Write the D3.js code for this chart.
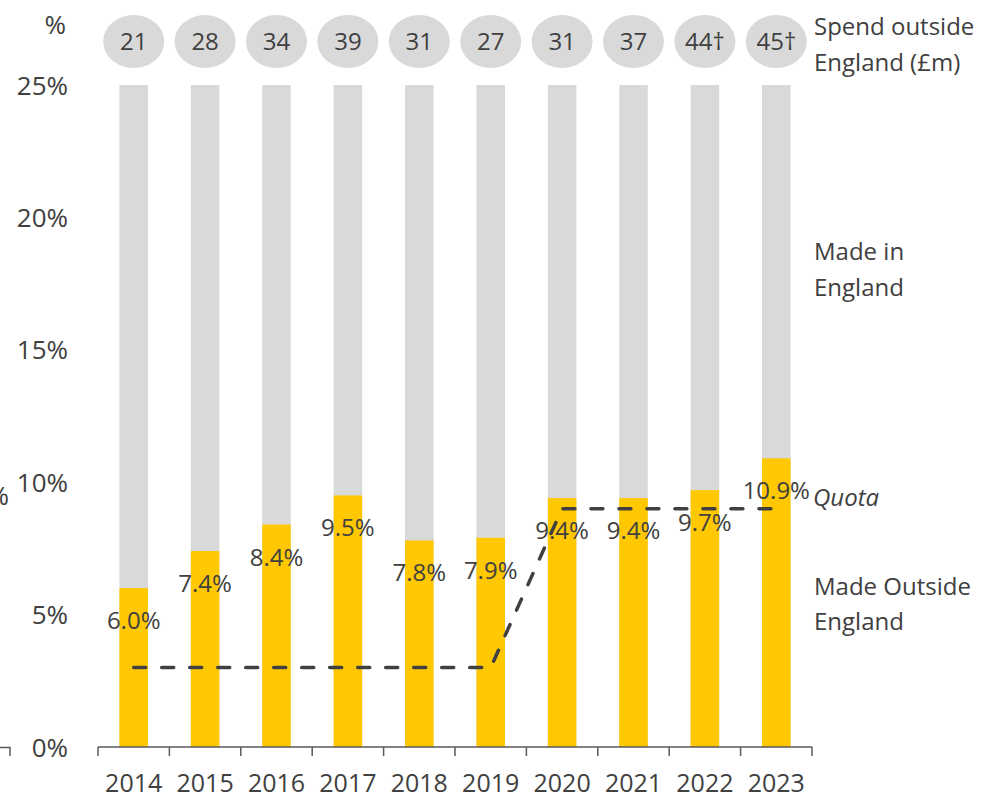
<!DOCTYPE html>
<html>
<head>
<meta charset="utf-8">
<script src="https://cdn.jsdelivr.net/npm/d3@7"></script>
<style>
  body { margin: 0; background: #fff; }
  svg { display: block; font-family: "Open Sans", "Noto Sans", sans-serif; }
</style>
</head>
<body>
<svg width="987" height="796"></svg>
<script>
// Chart data
var years = ["2014", "2015", "2016", "2017", "2018", "2019", "2020", "2021", "2022", "2023"];
var madeOutside = [6.0, 7.4, 8.4, 9.5, 7.8, 7.9, 9.4, 9.4, 9.7, 10.9];
var quota = [3, 3, 3, 3, 3, 3, 9, 9, 9, 9];
var spendLabels = ["21", "28", "34", "39", "31", "27", "31", "37", "44\u2020", "45\u2020"];
var yTicks = [0, 5, 10, 15, 20, 25];

var svg = d3.select("svg");
var textColor = "#404040";

// Scales
var x = d3.scaleBand()
    .domain(years)
    .range([98, 812])
    .paddingInner(0.6)
    .paddingOuter(0.3);

var y = d3.scaleLinear()
    .domain([0, 25])
    .range([747, 85]);

var cx = d => x(d) + x.bandwidth() / 2;

// Grey background bars (full height = made in England)
svg.append("g")
  .selectAll("rect")
  .data(years)
  .enter().append("rect")
    .attr("x", d => x(d))
    .attr("y", y(25))
    .attr("width", x.bandwidth())
    .attr("height", y(0) - y(25))
    .attr("fill", "#d9d9d9");

// Yellow bars (made outside England)
svg.append("g")
  .selectAll("rect")
  .data(madeOutside)
  .enter().append("rect")
    .attr("x", (d, i) => x(years[i]))
    .attr("y", d => y(d))
    .attr("width", x.bandwidth())
    .attr("height", d => y(0) - y(d))
    .attr("fill", "#ffc800");

// Quota line
var line = d3.line()
    .x((d, i) => cx(years[i]))
    .y(d => y(d));

svg.append("path")
    .datum(quota)
    .attr("d", line)
    .attr("fill", "none")
    .attr("stroke", "#404040")
    .attr("stroke-width", 3.5)
    .attr("stroke-linecap", "round")
    .attr("stroke-dasharray", "12,16");

// Bar value labels
svg.append("g")
  .selectAll("text")
  .data(madeOutside)
  .enter().append("text")
    .attr("x", (d, i) => cx(years[i]))
    .attr("y", d => y(d) + 41)
    .attr("text-anchor", "middle")
    .attr("font-size", 24)
    .attr("fill", textColor)
    .text(d => d.toFixed(1) + "%");

// Spend ellipses on top
var spend = svg.append("g")
  .selectAll("g")
  .data(spendLabels)
  .enter().append("g")
    .attr("transform", (d, i) => `translate(${cx(years[i])},41.5)`);

spend.append("ellipse")
    .attr("rx", 30.5)
    .attr("ry", 26.5)
    .attr("fill", "#d9d9d9");

spend.append("text")
    .attr("y", 8.5)
    .attr("text-anchor", "middle")
    .attr("font-size", 24)
    .attr("fill", textColor)
    .text(d => d);

// Y axis labels (no axis line)
svg.append("g")
  .selectAll("text")
  .data(yTicks)
  .enter().append("text")
    .attr("x", 68)
    .attr("y", d => y(d) + 9.5)
    .attr("text-anchor", "end")
    .attr("font-size", 26)
    .attr("fill", textColor)
    .text(d => d + "%");

svg.append("text")
    .attr("x", 66)
    .attr("y", 34)
    .attr("text-anchor", "end")
    .attr("font-size", 26)
    .attr("fill", textColor)
    .text("%");

// X axis: baseline with ticks at band boundaries
var axis = svg.append("g").attr("stroke", "#595959").attr("stroke-width", 1.5);
axis.append("line")
    .attr("x1", x.range()[0]).attr("x2", x.range()[1])
    .attr("y1", y(0)).attr("y2", y(0));

var edges = years.map(d => x(d) - (x.step() - x.bandwidth()) / 2).concat([x.range()[1]]);
axis.selectAll("line.tick")
  .data(edges)
  .enter().append("line")
    .attr("class", "tick")
    .attr("x1", d => d).attr("x2", d => d)
    .attr("y1", y(0)).attr("y2", y(0) + 9);

svg.append("g")
  .selectAll("text")
  .data(years)
  .enter().append("text")
    .attr("x", d => cx(d))
    .attr("y", 792)
    .attr("text-anchor", "middle")
    .attr("font-size", 25)
    .attr("fill", textColor)
    .text(d => d);

// Right-hand labels
var rightLabels = [
  { t: "Spend outside", y: 35 },
  { t: "England (\u00a3m)", y: 71 },
  { t: "Made in", y: 260 },
  { t: "England", y: 296 },
  { t: "Made Outside", y: 595 },
  { t: "England", y: 630 }
];
svg.append("g")
  .selectAll("text")
  .data(rightLabels)
  .enter().append("text")
    .attr("x", 814)
    .attr("y", d => d.y)
    .attr("font-size", 24)
    .attr("fill", textColor)
    .text(d => d.t);

svg.append("text")
    .attr("x", 813)
    .attr("y", 506)
    .attr("font-size", 24)
    .attr("font-style", "italic")
    .attr("fill", textColor)
    .text("Quota");

// Edge of neighbouring panel, cut off at the left border
svg.append("text")
    .attr("x", 9)
    .attr("y", 505)
    .attr("text-anchor", "end")
    .attr("font-size", 26)
    .attr("fill", textColor)
    .text("10%");
svg.append("path")
    .attr("d", "M0,747.5H10V756")
    .attr("fill", "none")
    .attr("stroke", "#595959")
    .attr("stroke-width", 1.5);
</script>
</body>
</html>
